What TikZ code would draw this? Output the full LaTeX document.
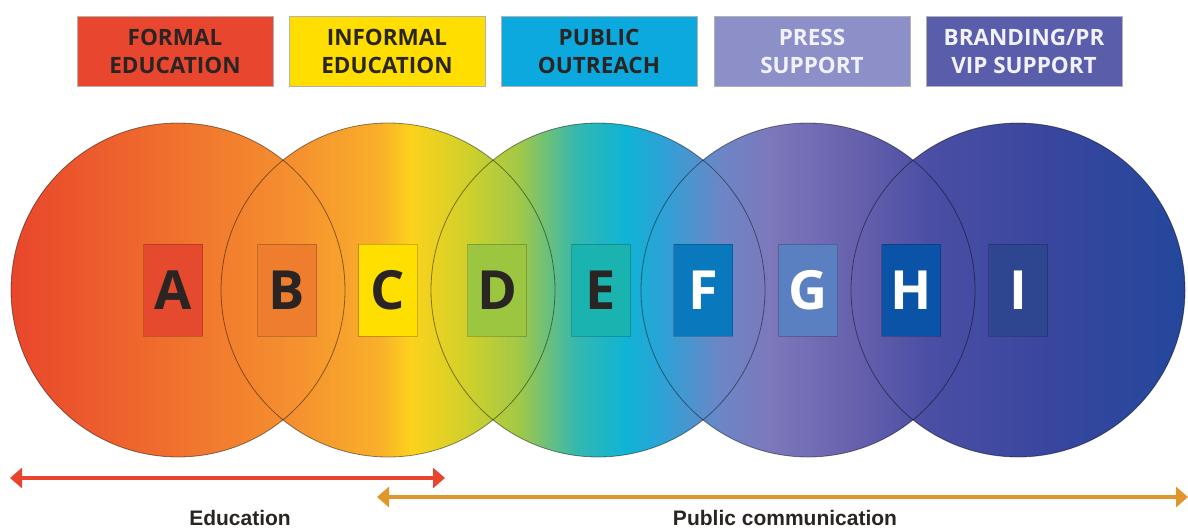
\documentclass[tikz,border=0pt]{standalone}
\usepackage{fontspec}
\usepackage{tikz}
\usetikzlibrary{arrows.meta,positioning}

\newfontfamily\boxfont{Open Sans}
\newfontfamily\labelfont{Liberation Sans}

% top boxes
\definecolor{formalred}{HTML}{E94630}
\definecolor{informalyellow}{HTML}{FFDE00}
\definecolor{outreachblue}{HTML}{0CA9DE}
\definecolor{presslilac}{HTML}{8C8FC8}
\definecolor{brandpurple}{HTML}{5A5DAA}
% letter boxes
\definecolor{boxA}{HTML}{E64A2E}
\definecolor{boxB}{HTML}{EE7D2E}
\definecolor{boxC}{HTML}{FEDF00}
\definecolor{boxD}{HTML}{9CC640}
\definecolor{boxE}{HTML}{1AB3B0}
\definecolor{boxF}{HTML}{0A78BC}
\definecolor{boxG}{HTML}{5A80C2}
\definecolor{boxH}{HTML}{0B53A6}
\definecolor{boxI}{HTML}{2E4590}
% rainbow stops
\definecolor{g0}{HTML}{E8432C}
\definecolor{g1}{HTML}{EF6A2D}
\definecolor{g2}{HTML}{F5922F}
\definecolor{g3}{HTML}{F9B02A}
\definecolor{g4}{HTML}{FDD21B}
\definecolor{g5}{HTML}{CDD02C}
\definecolor{g6}{HTML}{A0C848}
\definecolor{g7}{HTML}{35B8AE}
\definecolor{g8}{HTML}{0EB4D6}
\definecolor{g9}{HTML}{30A0D6}
\definecolor{g10}{HTML}{6C86C6}
\definecolor{g11}{HTML}{7C78BB}
\definecolor{g12}{HTML}{6862AE}
\definecolor{g13}{HTML}{4A4EA4}
\definecolor{g14}{HTML}{39469E}
\definecolor{g15}{HTML}{22479C}
% arrows and text
\definecolor{eduarrow}{HTML}{E8452C}
\definecolor{pubarrow}{HTML}{E0962A}
\definecolor{darktext}{HTML}{2A2522}

\begin{document}
\begin{tikzpicture}[x=1pt,y=-1pt,
  topbox/.style={draw=black!30, minimum width=196pt, minimum height=70pt, inner sep=0pt,
    align=center, font=\boxfont\bfseries\fontsize{22.5}{28}\selectfont},
  letterbox/.style={draw=black, draw opacity=0.2, minimum width=59pt, minimum height=92pt,
    inner sep=0pt, font=\boxfont\bfseries\fontsize{54}{54}\selectfont},
  ring/.style={circle, draw=black, draw opacity=0.45, line width=0.8pt,
    minimum size=334pt, inner sep=0pt},
  span/.style={line width=4.5pt, {Triangle[length=12pt,width=20pt]}-{Triangle[length=12pt,width=20pt]}},
  caption/.style={font=\labelfont\bfseries\fontsize{21}{21}\selectfont, text=darktext}
]

\useasboundingbox (0,0) rectangle (1188,530);

% top row
\node[topbox, fill=formalred, text=darktext] (formal) at (175,51) {FORMAL\\EDUCATION};
\node[topbox, fill=informalyellow, text=darktext] (informal) at (387,51) {INFORMAL\\EDUCATION};
\node[topbox, fill=outreachblue, text=darktext] (outreach) at (599,51) {PUBLIC\\OUTREACH};
\node[topbox, fill=presslilac, text=white!95!blue] (press) at (812,51) {PRESS\\SUPPORT};
\node[topbox, fill=brandpurple, text=white!95!blue] (branding) at (1024,51) {BRANDING/PR\\VIP SUPPORT};

% colour band inside the circles
\begin{scope}
\clip (178,290) circle (167pt) (388,290) circle (167pt) (598,290) circle (167pt)
      (808,290) circle (167pt) (1018,290) circle (167pt);
\foreach \xa/\xb/\ca/\cb in {0/150/g0/g1, 150/300/g1/g2, 300/380/g2/g3, 380/410/g3/g4,
    410/470/g4/g5, 470/520/g5/g6, 520/575/g6/g7, 575/625/g7/g8, 625/665/g8/g9,
    665/720/g9/g10, 720/770/g10/g11, 770/850/g11/g12, 850/930/g12/g13,
    930/1050/g13/g14, 1050/1190/g14/g15}
  \shade[left color=\ca, right color=\cb] (\xa,110) rectangle (\xb+0.6,470);
\end{scope}

\node[ring] (c1) at (178,290) {};
\node[ring] (c2) at (388,290) {};
\node[ring] (c3) at (598,290) {};
\node[ring] (c4) at (808,290) {};
\node[ring] (c5) at (1018,290) {};

% letters
\node[letterbox, fill=boxA, text=darktext] (A) at (173,290) {A};
\node[letterbox, fill=boxB, text=darktext] (B) at (287,290) {B};
\node[letterbox, fill=boxC, text=darktext] (C) at (388,290) {C};
\node[letterbox, fill=boxD, text=darktext] (D) at (497,290) {D};
\node[letterbox, fill=boxE, text=darktext] (E) at (601,290) {E};
\node[letterbox, fill=boxF, text=white] (F) at (703,290) {F};
\node[letterbox, fill=boxG, text=white] (G) at (808,290) {G};
\node[letterbox, fill=boxH, text=white] (H) at (911,290) {H};
\node[letterbox, fill=boxI, text=white] (I) at (1018,290) {I};

% spans
\coordinate (edu west) at (10,478);
\coordinate (edu east) at (445,478);
\coordinate (pub west) at (377,497);
\coordinate (pub east) at (1188,497);
\draw[span, eduarrow] (edu west) -- (edu east);
\draw[span, pubarrow] (pub west) -- (pub east);

\node[caption] (education) at (240,518) {Education};
\node[caption] (public) at (785,518) {Public communication};

\end{tikzpicture}
\end{document}
